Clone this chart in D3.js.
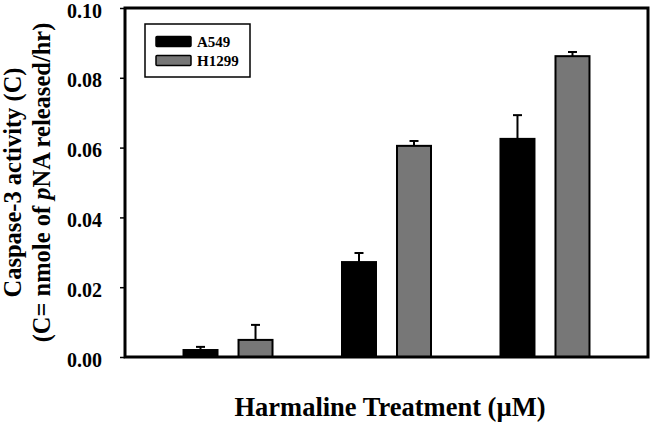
<!DOCTYPE html>
<html><head><meta charset="utf-8">
<script src="https://cdn.jsdelivr.net/npm/d3@7"></script>
<style>body{margin:0;background:#fff}svg{display:block}text{font-family:"Liberation Serif","Times New Roman",serif;font-weight:bold;fill:#000}</style>
</head><body><svg id="c" width="650" height="430"></svg>
<script>
const groups = ["G1", "G2", "G3"];
const series = ["A549", "H1299"];
const colors = ["#000000", "#777777"];
const valuesA549 = [0.0020, 0.0272, 0.0625];
const errA549 = [0.0009, 0.0026, 0.0068];
const valuesH1299 = [0.0049, 0.0605, 0.0862];
const errH1299 = [0.0043, 0.0014, 0.0012];
const yTicks = [0, 0.02, 0.04, 0.06, 0.08, 0.10];

const svg = d3.select("#c");
const L = 125, R = 648, T = 8, B = 357;
const x = d3.scalePoint().domain(groups).range([L, R]).padding(0.65);
const xs = d3.scaleBand().domain(series).range([-44.5, 44.5]).paddingInner(0.382);
const y = d3.scaleLinear().domain([0, 0.1]).range([B, T]);

const data = [];
groups.forEach((g, i) => {
  data.push({g, s: "A549", v: valuesA549[i], e: errA549[i], c: colors[0]});
  data.push({g, s: "H1299", v: valuesH1299[i], e: errH1299[i], c: colors[1]});
});

// error bars (upper only)
const eb = svg.append("g");
data.forEach(d => {
  const cx = x(d.g) + xs(d.s) + xs.bandwidth() / 2;
  eb.append("line").attr("x1", cx).attr("x2", cx).attr("y1", y(d.v)).attr("y2", y(d.v + d.e))
    .attr("stroke", "#000").attr("stroke-width", 2);
  eb.append("line").attr("x1", cx - 4.5).attr("x2", cx + 4.5).attr("y1", y(d.v + d.e)).attr("y2", y(d.v + d.e))
    .attr("stroke", "#000").attr("stroke-width", 2);
});

svg.append("g").selectAll("rect").data(data).join("rect")
  .attr("x", d => x(d.g) + xs(d.s))
  .attr("width", xs.bandwidth())
  .attr("y", d => y(d.v))
  .attr("height", d => B - y(d.v))
  .attr("fill", d => d.c)
  .attr("stroke", "#000").attr("stroke-width", 2);

// frame
svg.append("path").attr("d", `M${L},${T}H${R}V${B}H${L}Z`).attr("fill", "none")
  .attr("stroke", "#000").attr("stroke-width", 3);

// y axis
const ya = svg.append("g").attr("transform", `translate(${L},0)`)
  .call(d3.axisLeft(y).tickValues(yTicks).tickFormat(d3.format(".2f")).tickSize(5).tickPadding(18));
ya.select(".domain").remove();
ya.selectAll("line").attr("stroke", "#000").attr("stroke-width", 1.5);
ya.selectAll("text").style("font-size", "20px").style("font-family", "Liberation Serif, serif")
  .style("font-weight", "bold").attr("fill", "#000").attr("dy", "0.45em");

// y title
const yt = svg.append("text").attr("transform", `translate(21,${(T + B) / 2}) rotate(-90)`)
  .attr("text-anchor", "middle").style("font-size", "24.5px");
yt.append("tspan").attr("x", 0).attr("dy", 0).text("Caspase-3 activity (C)");
const t2 = yt.append("tspan").attr("x", 0).attr("dy", 29);
t2.append("tspan").text("(C= nmole of ");
t2.append("tspan").attr("font-style", "italic").text("p");
t2.append("tspan").text("NA released/hr)");

// x title
svg.append("text").attr("x", 390).attr("y", 416).attr("text-anchor", "middle")
  .style("font-size", "26.5px").text("Harmaline Treatment (\u00b5M)");

// legend
const lg = svg.append("g");
lg.append("rect").attr("x", 145).attr("y", 24).attr("width", 105).attr("height", 53)
  .attr("fill", "#fff").attr("stroke", "#000").attr("stroke-width", 1.5);
series.forEach((s, i) => {
  const yy = 36.5 + i * 19;
  lg.append("rect").attr("x", 156).attr("y", yy).attr("width", 35).attr("height", 10)
    .attr("rx", 1).attr("fill", colors[i]).attr("stroke", "#000").attr("stroke-width", 1.5);
  lg.append("text").attr("x", 197).attr("y", yy + 10.5).style("font-size", "15px").text(s);
});
</script></body></html>
